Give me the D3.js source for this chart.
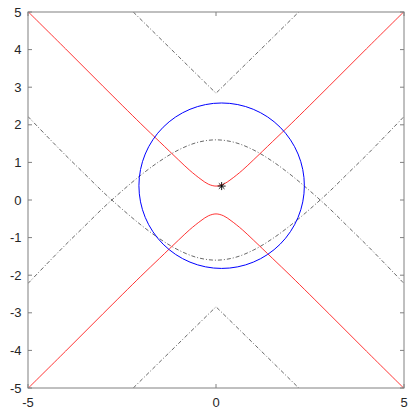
<!DOCTYPE html>
<html>
<head>
<meta charset="utf-8">
<script src="https://cdn.jsdelivr.net/npm/d3@7"></script>
<style>
  body { margin: 0; background: #fff; }
  text { font-family: "Liberation Sans", Arial, sans-serif; font-size: 13px; fill: #262626; }
</style>
</head>
<body>
<script>
// ticks
const xTicks = [-5, 0, 5];
const yTicks = [-5, -4, -3, -2, -1, 0, 1, 2, 3, 4, 5];

// red hyperbola branches [x, y]
const redUpper = [[-5, 5.01], [-4, 4.02], [-3, 3.02], [-2, 2.03], [-1.5, 1.55], [-1, 1.07], [-0.7, 0.79], [-0.4, 0.55], [-0.2, 0.42], [0, 0.37],
  [0.2, 0.42], [0.4, 0.55], [0.7, 0.79], [1, 1.07], [1.5, 1.55], [2, 2.03], [3, 3.02], [4, 4.02], [5, 5.01]];
const redLower = [[-5, -5.01], [-4, -4.02], [-3, -3.02], [-2, -2.03], [-1.5, -1.55], [-1, -1.07], [-0.7, -0.79], [-0.4, -0.55], [-0.2, -0.42], [0, -0.37],
  [0.2, -0.42], [0.4, -0.55], [0.7, -0.79], [1, -1.07], [1.5, -1.55], [2, -2.03], [3, -3.02], [4, -4.02], [5, -5.01]];

// black dash-dot bounds
const blackCup = [[-5, 2.22], [-4.5, 1.70], [-4, 1.19], [-3.5, 0.70], [-3, 0.21], [-2.5, -0.24], [-2, -0.66], [-1.5, -1.03], [-1, -1.33], [-0.5, -1.53], [0, -1.6],
  [0.5, -1.53], [1, -1.33], [1.5, -1.03], [2, -0.66], [2.5, -0.24], [3, 0.21], [3.5, 0.70], [4, 1.19], [4.5, 1.70], [5, 2.22]];
const blackCap = [[-5, -2.22], [-4.5, -1.70], [-4, -1.19], [-3.5, -0.70], [-3, -0.21], [-2.5, 0.24], [-2, 0.66], [-1.5, 1.03], [-1, 1.33], [-0.5, 1.53], [0, 1.6],
  [0.5, 1.53], [1, 1.33], [1.5, 1.03], [2, 0.66], [2.5, 0.24], [3, -0.21], [3.5, -0.70], [4, -1.19], [4.5, -1.70], [5, -2.22]];
const blackTopV = [[-2.2, 5], [-1.5, 4.31], [-1, 3.82], [-0.5, 3.33], [0, 2.84], [0.5, 3.33], [1, 3.82], [1.5, 4.31], [2.2, 5]];
const blackBottomV = [[-2.2, -5], [-1.5, -4.31], [-1, -3.82], [-0.5, -3.33], [0, -2.84], [0.5, -3.33], [1, -3.82], [1.5, -4.31], [2.2, -5]];

// blue circle: centre and radius, and the star
const circleCenter = [0.15, 0.38];
const circleRadius = 2.2;
const starPoint = [0.15, 0.37];

let marginLeft = 28, marginTop = 12, plotW = 376, plotH = 376;

let svg = d3.select("body").append("svg")
  .attr("width", 409)
  .attr("height", 410);

let x = d3.scaleLinear().domain([-5, 5]).range([marginLeft, marginLeft + plotW]);
let y = d3.scaleLinear().domain([-5, 5]).range([marginTop + plotH, marginTop]);

svg.append("clipPath").attr("id", "clip")
  .append("rect")
  .attr("x", marginLeft).attr("y", marginTop)
  .attr("width", plotW).attr("height", plotH);

let plot = svg.append("g").attr("clip-path", "url(#clip)");

let line = d3.line()
  .x(d => x(d[0]))
  .y(d => y(d[1]))
  .curve(d3.curveCatmullRom);

// dash-dot black curves
[blackCup, blackCap].forEach(pts => {
  plot.append("path")
    .attr("d", line(pts))
    .attr("fill", "none")
    .attr("stroke", "#000")
    .attr("stroke-width", 0.6)
    .attr("stroke-dasharray", "4,2,1,2");
});
[blackTopV, blackBottomV].forEach(pts => {
  plot.append("path")
    .attr("d", line.curve(d3.curveLinear)(pts))
    .attr("fill", "none")
    .attr("stroke", "#000")
    .attr("stroke-width", 0.6)
    .attr("stroke-dasharray", "4,2,1,2");
});
line.curve(d3.curveCatmullRom);

// red branches
[redUpper, redLower].forEach(pts => {
  plot.append("path")
    .attr("d", line(pts))
    .attr("fill", "none")
    .attr("stroke", "#ff0000")
    .attr("stroke-width", 0.8);
});

// blue circle
plot.append("circle")
  .attr("cx", x(circleCenter[0]))
  .attr("cy", y(circleCenter[1]))
  .attr("r", x(circleCenter[0] + circleRadius) - x(circleCenter[0]))
  .attr("fill", "none")
  .attr("stroke", "#0000ff")
  .attr("stroke-width", 1);

// star marker
let sx = x(starPoint[0]), sy = y(starPoint[1]), s = 4;
let star = plot.append("g").attr("stroke", "#000").attr("stroke-width", 0.9);
[[s, 0], [0, s], [s * 0.7, s * 0.7], [s * 0.7, -s * 0.7]].forEach(v => {
  star.append("line")
    .attr("x1", sx - v[0]).attr("y1", sy - v[1])
    .attr("x2", sx + v[0]).attr("y2", sy + v[1]);
});

// axes box
svg.append("rect")
  .attr("x", marginLeft).attr("y", marginTop)
  .attr("width", plotW).attr("height", plotH)
  .attr("fill", "none")
  .attr("stroke", "#808080")
  .attr("stroke-width", 1);

let tickLen = 4;
let ticks = svg.append("g").attr("stroke", "#808080").attr("stroke-width", 1);
yTicks.forEach(t => {
  ticks.append("line").attr("x1", marginLeft).attr("x2", marginLeft + tickLen).attr("y1", y(t)).attr("y2", y(t));
  ticks.append("line").attr("x1", marginLeft + plotW).attr("x2", marginLeft + plotW - tickLen).attr("y1", y(t)).attr("y2", y(t));
});
xTicks.forEach(t => {
  ticks.append("line").attr("x1", x(t)).attr("x2", x(t)).attr("y1", marginTop + plotH).attr("y2", marginTop + plotH - tickLen);
  ticks.append("line").attr("x1", x(t)).attr("x2", x(t)).attr("y1", marginTop).attr("y2", marginTop + tickLen);
});

// tick labels
svg.append("g").selectAll("text")
  .data(yTicks)
  .enter().append("text")
  .attr("x", marginLeft - 6.5)
  .attr("y", d => y(d))
  .attr("dy", "0.36em")
  .attr("text-anchor", "end")
  .text(d => d);

svg.append("g").selectAll("text")
  .data(xTicks)
  .enter().append("text")
  .attr("x", d => x(d))
  .attr("y", marginTop + plotH + 19)
  .attr("text-anchor", "middle")
  .text(d => d);
</script>
</body>
</html>
